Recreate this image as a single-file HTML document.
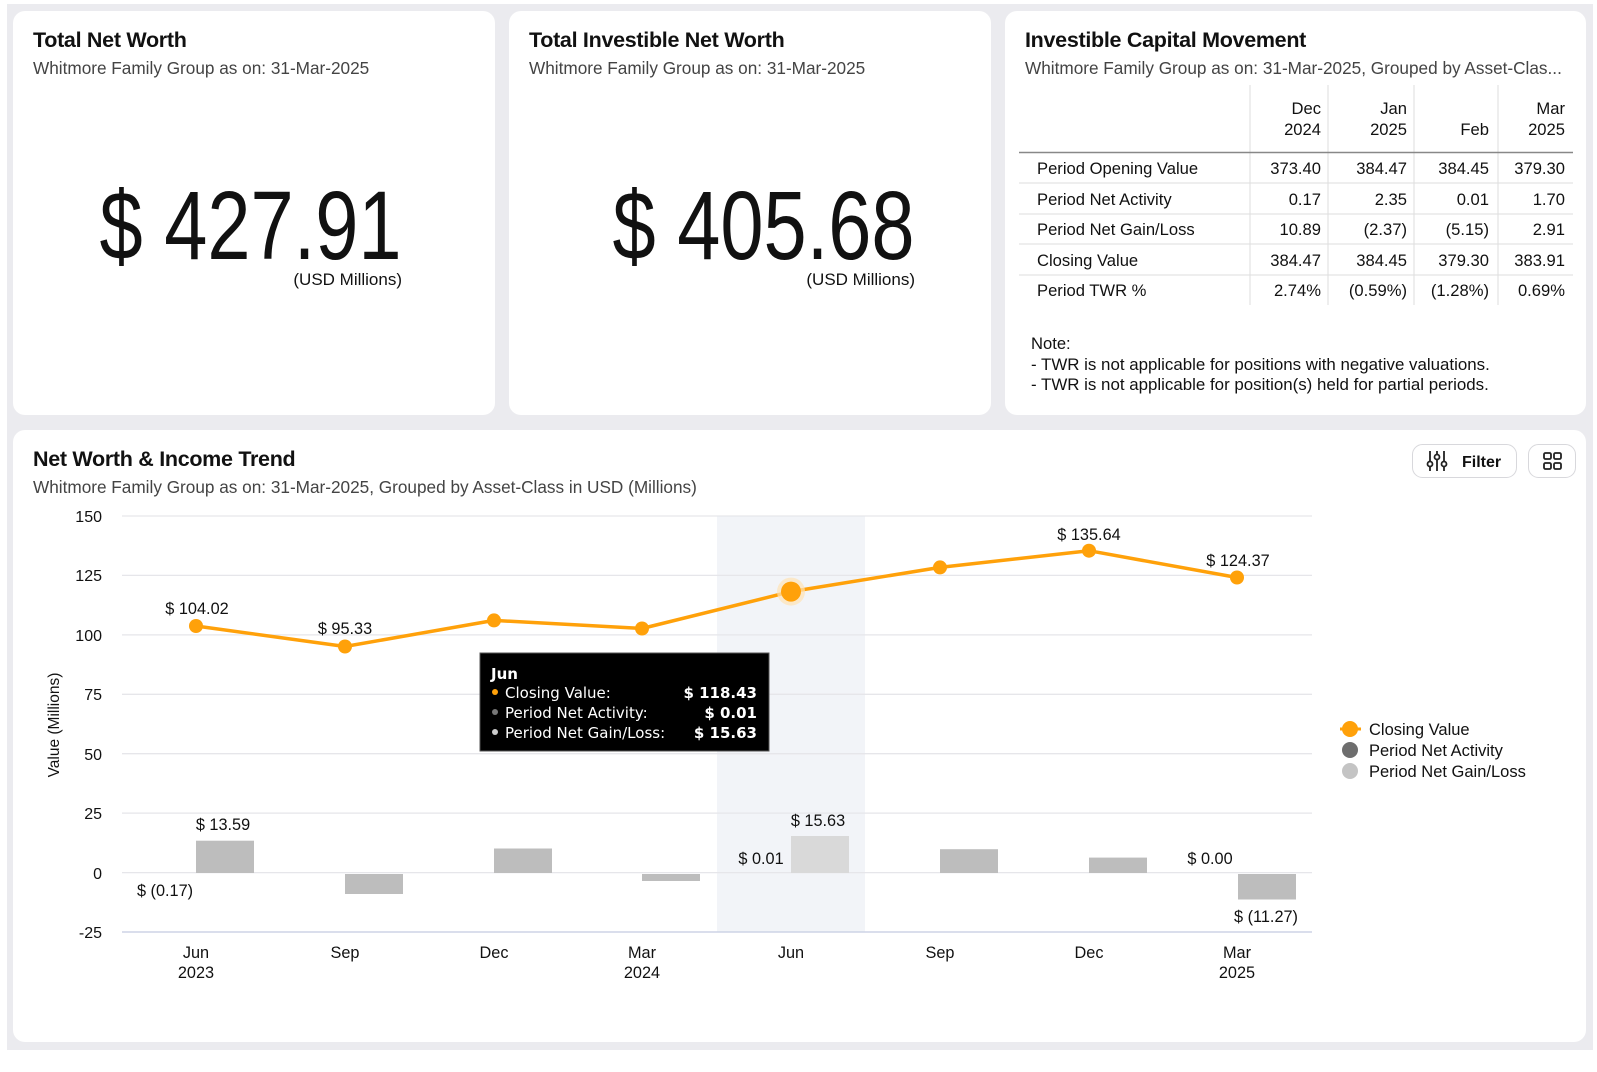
<!DOCTYPE html>
<html><head><meta charset="utf-8"><style>
*{margin:0;padding:0;box-sizing:border-box}
body{width:1597px;height:1072px;background:#fff;position:relative;overflow:hidden;font-family:"Liberation Sans",sans-serif;color:#111}
.bg{position:absolute;left:7px;top:4px;width:1586px;height:1046px;background:#ebebef}
.card{position:absolute;background:#fff;border-radius:12px}
.t{position:absolute;font-weight:bold;font-size:21.5px;letter-spacing:-0.3px;color:#111}
.s{position:absolute;font-size:17.2px;color:#444}
.big{position:absolute;font-size:97px;line-height:100px;transform-origin:right center;transform:scaleX(0.8);white-space:nowrap;color:#111}
.u{position:absolute;font-size:17px;color:#111}
</style></head><body>
<div class="bg"></div>
<div class="card" style="left:13px;top:11px;width:482px;height:404px"></div>
<div class="card" style="left:509px;top:11px;width:482px;height:404px"></div>
<div class="card" style="left:1005px;top:11px;width:581px;height:404px"></div>
<div class="card" style="left:13px;top:430px;width:1573px;height:612px"></div>

<div class="t" style="left:33px;top:28px">Total Net Worth</div>
<div class="s" style="left:33px;top:58px">Whitmore Family Group as on: 31-Mar-2025</div>
<div class="big" style="right:1195px;top:176px">$ 427.91</div>
<div class="u" style="right:1195px;top:270px">(USD Millions)</div>

<div class="t" style="left:529px;top:28px">Total Investible Net Worth</div>
<div class="s" style="left:529px;top:58px">Whitmore Family Group as on: 31-Mar-2025</div>
<div class="big" style="right:682px;top:176px">$ 405.68</div>
<div class="u" style="right:682px;top:270px">(USD Millions)</div>

<div class="t" style="left:1025px;top:28px">Investible Capital Movement</div>
<div class="s" style="left:1025px;top:58px">Whitmore Family Group as on: 31-Mar-2025, Grouped by Asset-Clas...</div>

<svg style="position:absolute;left:0;top:0" width="1597" height="1072">
<g stroke="#ddd" stroke-width="1">
<line x1="1250" y1="85" x2="1250" y2="305"/><line x1="1328" y1="85" x2="1328" y2="305"/><line x1="1414" y1="85" x2="1414" y2="305"/><line x1="1498" y1="85" x2="1498" y2="305"/>
<line x1="1019" y1="183" x2="1573" y2="183"/><line x1="1019" y1="214" x2="1573" y2="214"/><line x1="1019" y1="244" x2="1573" y2="244"/><line x1="1019" y1="275" x2="1573" y2="275"/>
</g>
<line x1="1019" y1="152.5" x2="1573" y2="152.5" stroke="#888" stroke-width="1.5"/>
<g font-family="Liberation Sans, sans-serif" font-size="16.6" fill="#111" text-anchor="end">
<text x="1321" y="114">Dec</text><text x="1321" y="135">2024</text>
<text x="1407" y="114">Jan</text><text x="1407" y="135">2025</text>
<text x="1489" y="135">Feb</text>
<text x="1565" y="114">Mar</text><text x="1565" y="135">2025</text>
<text x="1321" y="174">373.40</text><text x="1407" y="174">384.47</text><text x="1489" y="174">384.45</text><text x="1565" y="174">379.30</text>
<text x="1321" y="205">0.17</text><text x="1407" y="205">2.35</text><text x="1489" y="205">0.01</text><text x="1565" y="205">1.70</text>
<text x="1321" y="235">10.89</text><text x="1407" y="235">(2.37)</text><text x="1489" y="235">(5.15)</text><text x="1565" y="235">2.91</text>
<text x="1321" y="266">384.47</text><text x="1407" y="266">384.45</text><text x="1489" y="266">379.30</text><text x="1565" y="266">383.91</text>
<text x="1321" y="296">2.74%</text><text x="1407" y="296">(0.59%)</text><text x="1489" y="296">(1.28%)</text><text x="1565" y="296">0.69%</text>
</g>
<g font-family="Liberation Sans, sans-serif" font-size="16.6" fill="#111">
<text x="1037" y="174">Period Opening Value</text>
<text x="1037" y="205">Period Net Activity</text>
<text x="1037" y="235">Period Net Gain/Loss</text>
<text x="1037" y="266">Closing Value</text>
<text x="1037" y="296">Period TWR %</text>
<text x="1031" y="349">Note:</text>
<text x="1031" y="370" font-size="16.9">- TWR is not applicable for positions with negative valuations.</text>
<text x="1031" y="390" font-size="16.9">- TWR is not applicable for position(s) held for partial periods.</text>
</g>

<rect x="717" y="516" width="148" height="416" fill="#f2f4f8"/>
<g stroke="#e6e6ea" stroke-width="1.3">
<line x1="122" y1="516" x2="1312" y2="516"/><line x1="122" y1="575.4" x2="1312" y2="575.4"/><line x1="122" y1="634.9" x2="1312" y2="634.9"/><line x1="122" y1="694.3" x2="1312" y2="694.3"/><line x1="122" y1="753.7" x2="1312" y2="753.7"/><line x1="122" y1="813.1" x2="1312" y2="813.1"/><line x1="122" y1="872.6" x2="1312" y2="872.6"/>
</g>
<line x1="122" y1="932" x2="1312" y2="932" stroke="#cdd3e6" stroke-width="1.5"/>
<g font-family="Liberation Sans, sans-serif" font-size="16" fill="#111" text-anchor="end">
<text x="102" y="522">150</text><text x="102" y="581">125</text><text x="102" y="641">100</text><text x="102" y="700">75</text><text x="102" y="760">50</text><text x="102" y="819">25</text><text x="102" y="879">0</text><text x="102" y="938">-25</text>
</g>
<text transform="translate(59,725) rotate(-90)" font-family="Liberation Sans, sans-serif" font-size="15.5" fill="#111" text-anchor="middle">Value (Millions)</text>
<g fill="#bdbdbd">
<rect x="196" y="840.7" width="58" height="32.3"/>
<rect x="345" y="874" width="58" height="20"/>
<rect x="494" y="848.5" width="58" height="24.5"/>
<rect x="642" y="874" width="58" height="7"/>
<rect x="791" y="836" width="58" height="37" fill="#d9d9d9"/>
<rect x="940" y="849.2" width="58" height="23.8"/>
<rect x="1089" y="857.6" width="58" height="15.4"/>
<rect x="1238" y="874" width="58" height="25.5"/>
</g>
<polyline fill="none" stroke="#ffa10a" stroke-width="3.5" stroke-linejoin="round" points="196,626 345,646.5 494,620.4 642,628.5 791,591.6 940,567.4 1089,550.7 1237,577.5"/>
<g fill="#ffa10a">
<circle cx="196" cy="626" r="7"/><circle cx="345" cy="646.5" r="7"/><circle cx="494" cy="620.4" r="7"/><circle cx="642" cy="628.5" r="7"/>
<circle cx="791" cy="591.6" r="14" fill="#ffe3b5" opacity="0.7"/><circle cx="791" cy="591.6" r="10"/>
<circle cx="940" cy="567.4" r="7"/><circle cx="1089" cy="550.7" r="7"/><circle cx="1237" cy="577.5" r="7"/>
</g>
<g font-family="Liberation Sans, sans-serif" font-size="16.3" fill="#111" text-anchor="middle">
<text x="197" y="614">$ 104.02</text><text x="345" y="634">$ 95.33</text><text x="1089" y="540">$ 135.64</text><text x="1238" y="566">$ 124.37</text>
<text x="223" y="830">$ 13.59</text><text x="165" y="896">$ (0.17)</text><text x="818" y="826">$ 15.63</text><text x="761" y="864">$ 0.01</text><text x="1210" y="864">$ 0.00</text><text x="1266" y="922">$ (11.27)</text>
<text x="196" y="958">Jun</text><text x="196" y="978">2023</text>
<text x="345" y="958">Sep</text><text x="494" y="958">Dec</text>
<text x="642" y="958">Mar</text><text x="642" y="978">2024</text>
<text x="791" y="958">Jun</text><text x="940" y="958">Sep</text><text x="1089" y="958">Dec</text>
<text x="1237" y="958">Mar</text><text x="1237" y="978">2025</text>
</g>
<rect x="480" y="653" width="289" height="98" fill="#000" stroke="#555" stroke-width="1"/>
<g font-family="DejaVu Sans, sans-serif" font-size="15" fill="#fff">
<text x="491" y="679" font-weight="bold">Jun</text>
<circle cx="495" cy="692" r="3" fill="#ffa10a"/><text x="505" y="698">Closing Value:</text>
<circle cx="495" cy="712" r="3" fill="#777"/><text x="505" y="718">Period Net Activity:</text>
<circle cx="495" cy="732" r="3" fill="#ccc"/><text x="505" y="738">Period Net Gain/Loss:</text>
<g text-anchor="end" font-weight="bold"><text x="757" y="698">$ 118.43</text><text x="757" y="718">$ 0.01</text><text x="757" y="738">$ 15.63</text></g>
</g>
<line x1="1340" y1="729" x2="1361" y2="729" stroke="#ffa10a" stroke-width="3"/>
<circle cx="1350" cy="729" r="8" fill="#ffa10a"/>
<circle cx="1350" cy="750" r="8" fill="#6e6e6e"/>
<circle cx="1350" cy="771" r="8" fill="#c4c4c4"/>
<g font-family="Liberation Sans, sans-serif" font-size="16.5" fill="#111">
<text x="1369" y="735">Closing Value</text><text x="1369" y="756">Period Net Activity</text><text x="1369" y="777">Period Net Gain/Loss</text>
</g>
<rect x="1412.5" y="444.5" width="104" height="33" rx="10" fill="#fff" stroke="#d8d8dc"/>
<g stroke="#222" stroke-width="1.8" fill="none">
<line x1="1430" y1="451" x2="1430" y2="471"/><line x1="1437" y1="451" x2="1437" y2="471"/><line x1="1444" y1="451" x2="1444" y2="471"/>
<circle cx="1430" cy="464" r="2.5" fill="#fff"/><circle cx="1437" cy="457" r="2.5" fill="#fff"/><circle cx="1444" cy="464" r="2.5" fill="#fff"/>
</g>
<text x="1462" y="467" font-family="Liberation Sans, sans-serif" font-size="16" font-weight="bold" fill="#111">Filter</text>
<rect x="1528.5" y="444.5" width="47" height="33" rx="10" fill="#fff" stroke="#d8d8dc"/>
<g stroke="#222" stroke-width="1.8" fill="none">
<rect x="1544" y="453" width="7" height="6" rx="1.5"/><rect x="1554" y="453" width="7" height="6" rx="1.5"/><rect x="1544" y="463" width="7" height="6" rx="1.5"/><rect x="1554" y="463" width="7" height="6" rx="1.5"/>
</g>
</svg>

<div class="t" style="left:33px;top:447px">Net Worth &amp; Income Trend</div>
<div class="s" style="left:33px;top:477px">Whitmore Family Group as on: 31-Mar-2025, Grouped by Asset-Class in USD (Millions)</div>
</body></html>
